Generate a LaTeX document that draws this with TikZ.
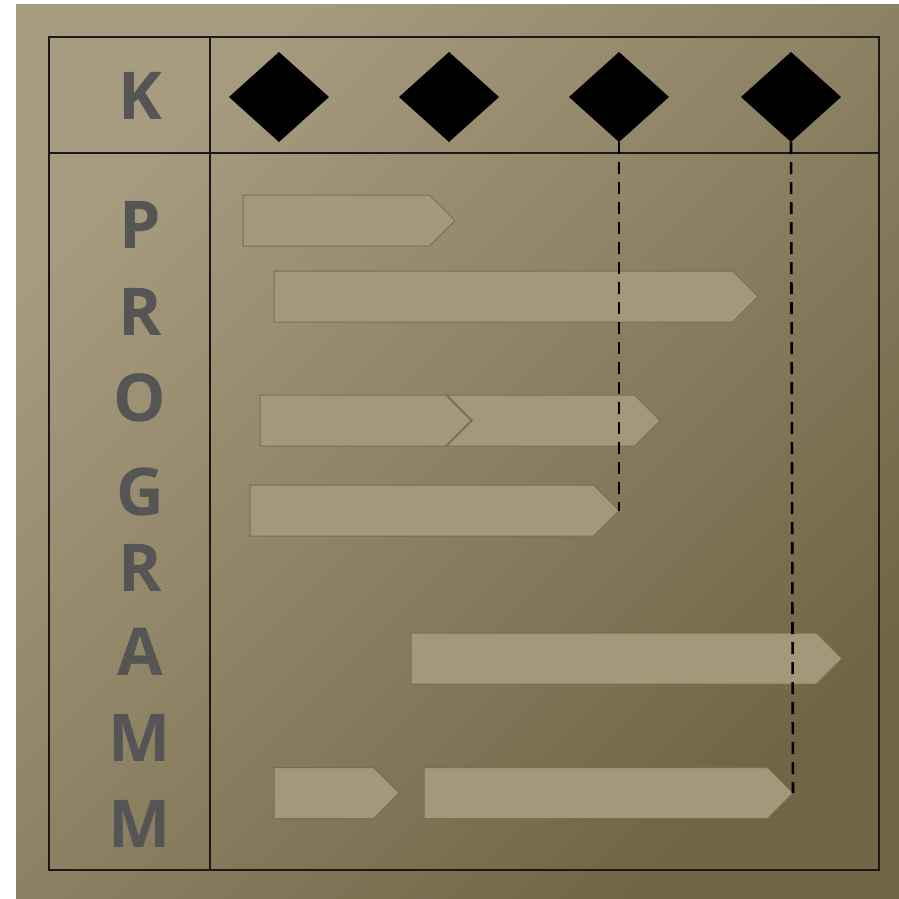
\documentclass[tikz,border=0pt]{standalone}
\usepackage{fontspec}
\setmainfont{Open Sans}
\usetikzlibrary{shapes.geometric,shapes.symbols}
\definecolor{BgLight}{RGB}{168,156,128}
\definecolor{BgDark}{RGB}{112,102,70}
\definecolor{BarFill}{RGB}{165,151,122}
\definecolor{BarLine}{RGB}{122,109,80}
\definecolor{LetterGray}{RGB}{85,85,85}
\tikzset{
  letter/.style={text=LetterGray,font=\fontsize{66}{66}\selectfont\bfseries,inner sep=0pt},
  milestone/.style={diamond,fill=black,inner sep=0pt,outer sep=0pt,
    minimum width=100pt,minimum height=90pt},
  task/.style={signal,signal to=east,fill=BarFill,draw=BarLine,line width=1pt,
    inner sep=0pt,outer sep=0pt,minimum height=51pt,anchor=west},
  frame/.style={draw=black!90,line width=1.9pt},
  tie/.style={draw=black,line width=2.6pt,dash pattern=on 12pt off 8pt},
}

\begin{document}
\begin{tikzpicture}[x=1pt,y=-1pt]
\useasboundingbox (0,0) rectangle (899,898);
\shade[top color=BgLight,bottom color=BgDark,shading angle=45] (16,4) rectangle (899,898);
% table
\draw[frame] (49,37) rectangle (879,870);
\draw[frame] (210,37) -- (210,870);
\draw[frame] (49,153) -- (879,153);
% letters
\node[letter] (lK) at (140,96) {K};
\node[letter] (lP) at (140,225) {P};
\node[letter] (lR1) at (140,312) {R};
\node[letter] (lO) at (140,398) {O};
\node[letter] (lG) at (140,492) {G};
\node[letter] (lR2) at (140,568) {R};
\node[letter] (lA) at (140,652) {A};
\node[letter] (lM1) at (140,738) {M};
\node[letter] (lM2) at (140,824) {M};
% milestones
\node[milestone] (d1) at (279,97) {};
\node[milestone] (d2) at (449,97) {};
\node[milestone] (d3) at (619,97) {};
\node[milestone] (d4) at (791,97) {};
% tasks
\node[task,minimum width=212pt] (t1) at (243,220.5) {};
\node[task,minimum width=484pt] (t2) at (274,296.5) {};
\node[task,signal from=west,minimum width=213pt,anchor=center] (t3b) at (553.5,420.5) {};
\node[task,minimum width=211pt] (t3a) at (260,420.5) {};
\node[task,minimum width=369pt] (t4) at (250,510.5) {};
\node[task,minimum width=431pt] (t5) at (411,658.5) {};
\node[task,minimum width=125pt] (t6a) at (274,793) {};
\node[task,minimum width=369pt] (t6b) at (424,793) {};
% deadlines
\draw[tie] (d3.south) -- (t4.east);
\draw[tie] (d4.south) -- (t6b.east);
\end{tikzpicture}
\end{document}
